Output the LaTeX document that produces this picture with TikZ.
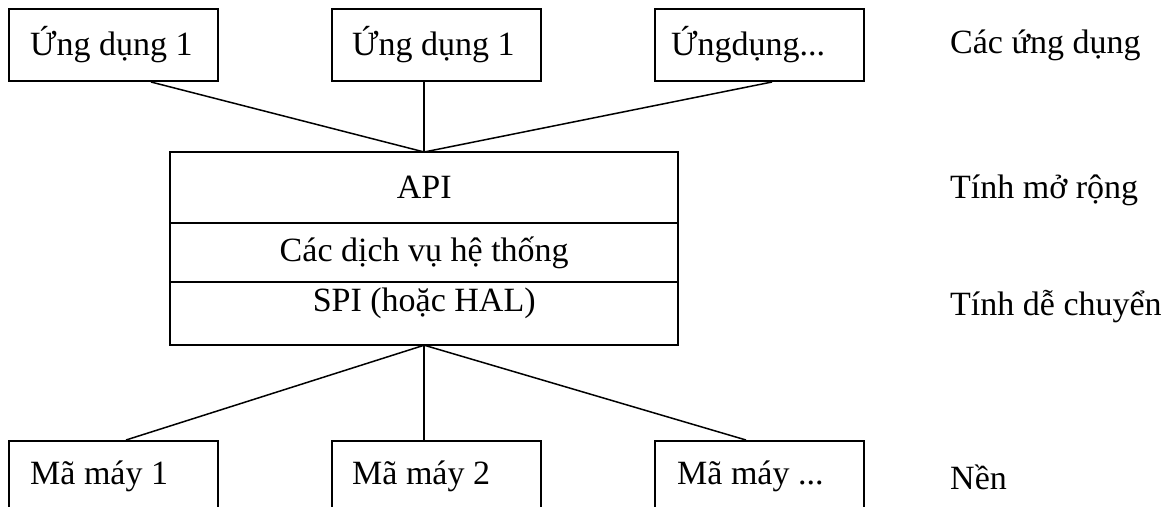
\documentclass[tikz,border=0pt]{standalone}
\usepackage{fontspec}
\setmainfont{Liberation Serif}
\newcommand{\bigtext}{\fontsize{34}{40}\selectfont}
\begin{document}
\begin{tikzpicture}[x=1pt,y=-1pt,
  box/.style={draw, line width=2pt, rectangle, anchor=north west,
    minimum width=209pt, minimum height=72pt, inner sep=0pt},
  boxtext/.style={anchor=west, inner sep=0pt, font=\bigtext},
  layer/.style={rectangle, anchor=north west,
    minimum width=508pt, inner sep=0pt, font=\bigtext},
  frame/.style={line width=2pt},
  side/.style={anchor=west, inner sep=0pt, font=\bigtext},
  link/.style={line width=1.5pt}]
\useasboundingbox (0,0) rectangle (1174,506);
\clip (0,0) rectangle (1174,506);

% application layer
\node[box] (app1) at (8,8) {};
\node[box] (app2) at (331,8) {};
\node[box] (app3) at (654,8) {};
\node[boxtext] (app1t) at ([xshift=22pt]app1.west) {Ứng dụng 1};
\node[boxtext] (app2t) at ([xshift=21pt]app2.west) {Ứng dụng 1};
\node[boxtext] (app3t) at ([xshift=17pt]app3.west) {Ứngdụng...};

% system layers: one frame split into three rows
\node[layer, minimum height=71pt] (api) at (170,152) {API};
\node[layer, minimum height=58pt] (svc) at (api.south west) {Các dịch vụ hệ thống};
\node[layer, minimum height=63pt] (spi) at (svc.south west) {};
\node[inner sep=0pt, font=\bigtext, anchor=north] (spitext) at ([yshift=-6pt]spi.north) {SPI (hoặc HAL)};
\draw[frame] (api.north west) rectangle (spi.south east);
\draw[frame] (svc.north west) -- (svc.north east);
\draw[frame] (spi.north west) -- (spi.north east);

% machine code layer
\node[box, minimum height=70pt] (mc1) at (8,440) {};
\node[box, minimum height=70pt] (mc2) at (331,440) {};
\node[box, minimum height=70pt] (mc3) at (654,440) {};
\node[boxtext] (mc1t) at ([xshift=22pt]mc1.west) {Mã máy 1};
\node[boxtext] (mc2t) at ([xshift=21pt]mc2.west) {Mã máy 2};
\node[boxtext] (mc3t) at ([xshift=23pt]mc3.west) {Mã máy ...};

% connectors
\draw[link] ([xshift=37.5pt]app1.south) -- (api.north);
\draw[link] (app2.south -| api.north) -- (api.north);
\draw[link] ([xshift=12.5pt]app3.south) -- (api.north);
\draw[link] (spi.south) -- ([xshift=12.5pt]mc1.north);
\draw[link] (spi.south) -- (mc2.north -| spi.south);
\draw[link] (spi.south) -- ([xshift=-13.5pt]mc3.north);

% layer captions
\node[side] (capApp) at (950,45) {Các ứng dụng};
\node[side] (capExt) at (950,190) {Tính mở rộng};
\node[side] (capPort) at (950,307) {Tính dễ chuyển};
\node[side] (capBase) at (950,477) {Nền};
\end{tikzpicture}
\end{document}
